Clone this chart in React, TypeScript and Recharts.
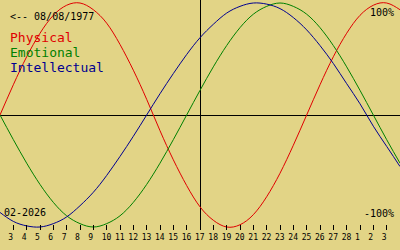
import { LineChart, Line, XAxis, YAxis, ReferenceLine } from 'recharts';

// day offsets from 02-02-2026
const days = [0, 1, 2, 3, 4, 5, 6, 7, 8, 9, 10, 11, 12, 13, 14, 15, 16, 17, 18, 19, 20, 21, 22, 23, 24, 25, 26, 27, 28, 29, 30];
const physical = [0, 27, 52, 73, 89, 98, 100, 94, 82, 63, 40, 14, -14, -40, -63, -82, -94, -100, -98, -89, -73, -52, -27, 0, 27, 52, 73, 89, 98, 100, 94];
const emotional = [0, -22, -43, -62, -78, -90, -97, -100, -97, -90, -78, -62, -43, -22, 0, 22, 43, 62, 78, 90, 97, 100, 97, 90, 78, 62, 43, 22, 0, -22, -43];
const intellectual = [-87, -95, -99, -100, -97, -91, -81, -69, -54, -37, -19, 0, 19, 37, 54, 69, 81, 91, 97, 100, 99, 95, 87, 76, 62, 46, 28, 10, -10, -28, -46];

const tickDays = [1, 2, 3, 4, 5, 6, 7, 8, 9, 10, 11, 12, 13, 14, 15, 16, 17, 18, 19, 20, 21, 22, 23, 24, 25, 26, 27, 28, 29];
const tickLabels = ['3', '4', '5', '6', '7', '8', '9', '10', '11', '12', '13', '14', '15', '16', '17', '18', '19', '20', '21', '22', '23', '24', '25', '26', '27', '28', '1', '2', '3'];
const today = 15;

const data = days.map((d, i) => ({
  day: d,
  physical: physical[i],
  emotional: emotional[i],
  intellectual: intellectual[i],
}));

const BG = '#e2d486';
const RED = '#e00000';
const GREEN = '#008000';
const BLUE = '#000090';
const MONO = '"DejaVu Sans Mono", "Liberation Mono", monospace';

function DayTick(props: any) {
  const { x, payload } = props;
  const label = tickLabels[tickDays.indexOf(payload.value)];
  return (
    <g>
      <line x1={x} x2={x} y1={225} y2={230} stroke="#000" strokeWidth={1} shapeRendering="crispEdges" />
      <text x={x - 5} y={240} textAnchor="start" fontFamily={MONO} fontSize={8} fill="#000">
        {label}
      </text>
    </g>
  );
}

export default function App() {
  return (
    <div style={{ position: 'fixed', left: 0, top: 0, width: 400, height: 250, background: BG, overflow: 'hidden' }}>
      <LineChart width={400} height={250} data={data} margin={{ top: 3, right: 0, bottom: 0, left: 0 }}>
        <XAxis
          dataKey="day"
          type="number"
          domain={[0, 30]}
          ticks={tickDays}
          interval={0}
          height={23}
          axisLine={false}
          tickLine={false}
          tick={<DayTick />}
        />
        <YAxis hide domain={[-100, 100]} />
        <ReferenceLine y={0} stroke="#000" strokeWidth={1} shapeRendering="crispEdges" />
        <ReferenceLine
          segment={[{ x: today, y: 102.7 }, { x: today, y: -102.7 }]}
          ifOverflow="visible"
          stroke="#000"
          strokeWidth={1}
          shapeRendering="crispEdges"
        />
        <Line type="natural" dataKey="physical" stroke={RED} strokeWidth={1} dot={false} isAnimationActive={false} />
        <Line type="natural" dataKey="emotional" stroke={GREEN} strokeWidth={1} dot={false} isAnimationActive={false} />
        <Line type="natural" dataKey="intellectual" stroke={BLUE} strokeWidth={1} dot={false} isAnimationActive={false} />
      </LineChart>
      <svg width={400} height={250} style={{ position: 'absolute', left: 0, top: 0, pointerEvents: 'none' }}>
        <text x={10} y={20} fontFamily={MONO} fontSize={10} fill="#000">{'<-- 08/08/1977'}</text>
        <text x={10} y={42} fontFamily={MONO} fontSize={13} fill={RED}>Physical</text>
        <text x={10} y={57} fontFamily={MONO} fontSize={13} fill={GREEN}>Emotional</text>
        <text x={10} y={72} fontFamily={MONO} fontSize={13} fill={BLUE}>Intellectual</text>
        <text x={394} y={16} textAnchor="end" fontFamily={MONO} fontSize={10} fill="#000">100%</text>
        <text x={394} y={217} textAnchor="end" fontFamily={MONO} fontSize={10} fill="#000">-100%</text>
        <text x={4} y={216} fontFamily={MONO} fontSize={10} fill="#000">02-2026</text>
      </svg>
    </div>
  );
}
